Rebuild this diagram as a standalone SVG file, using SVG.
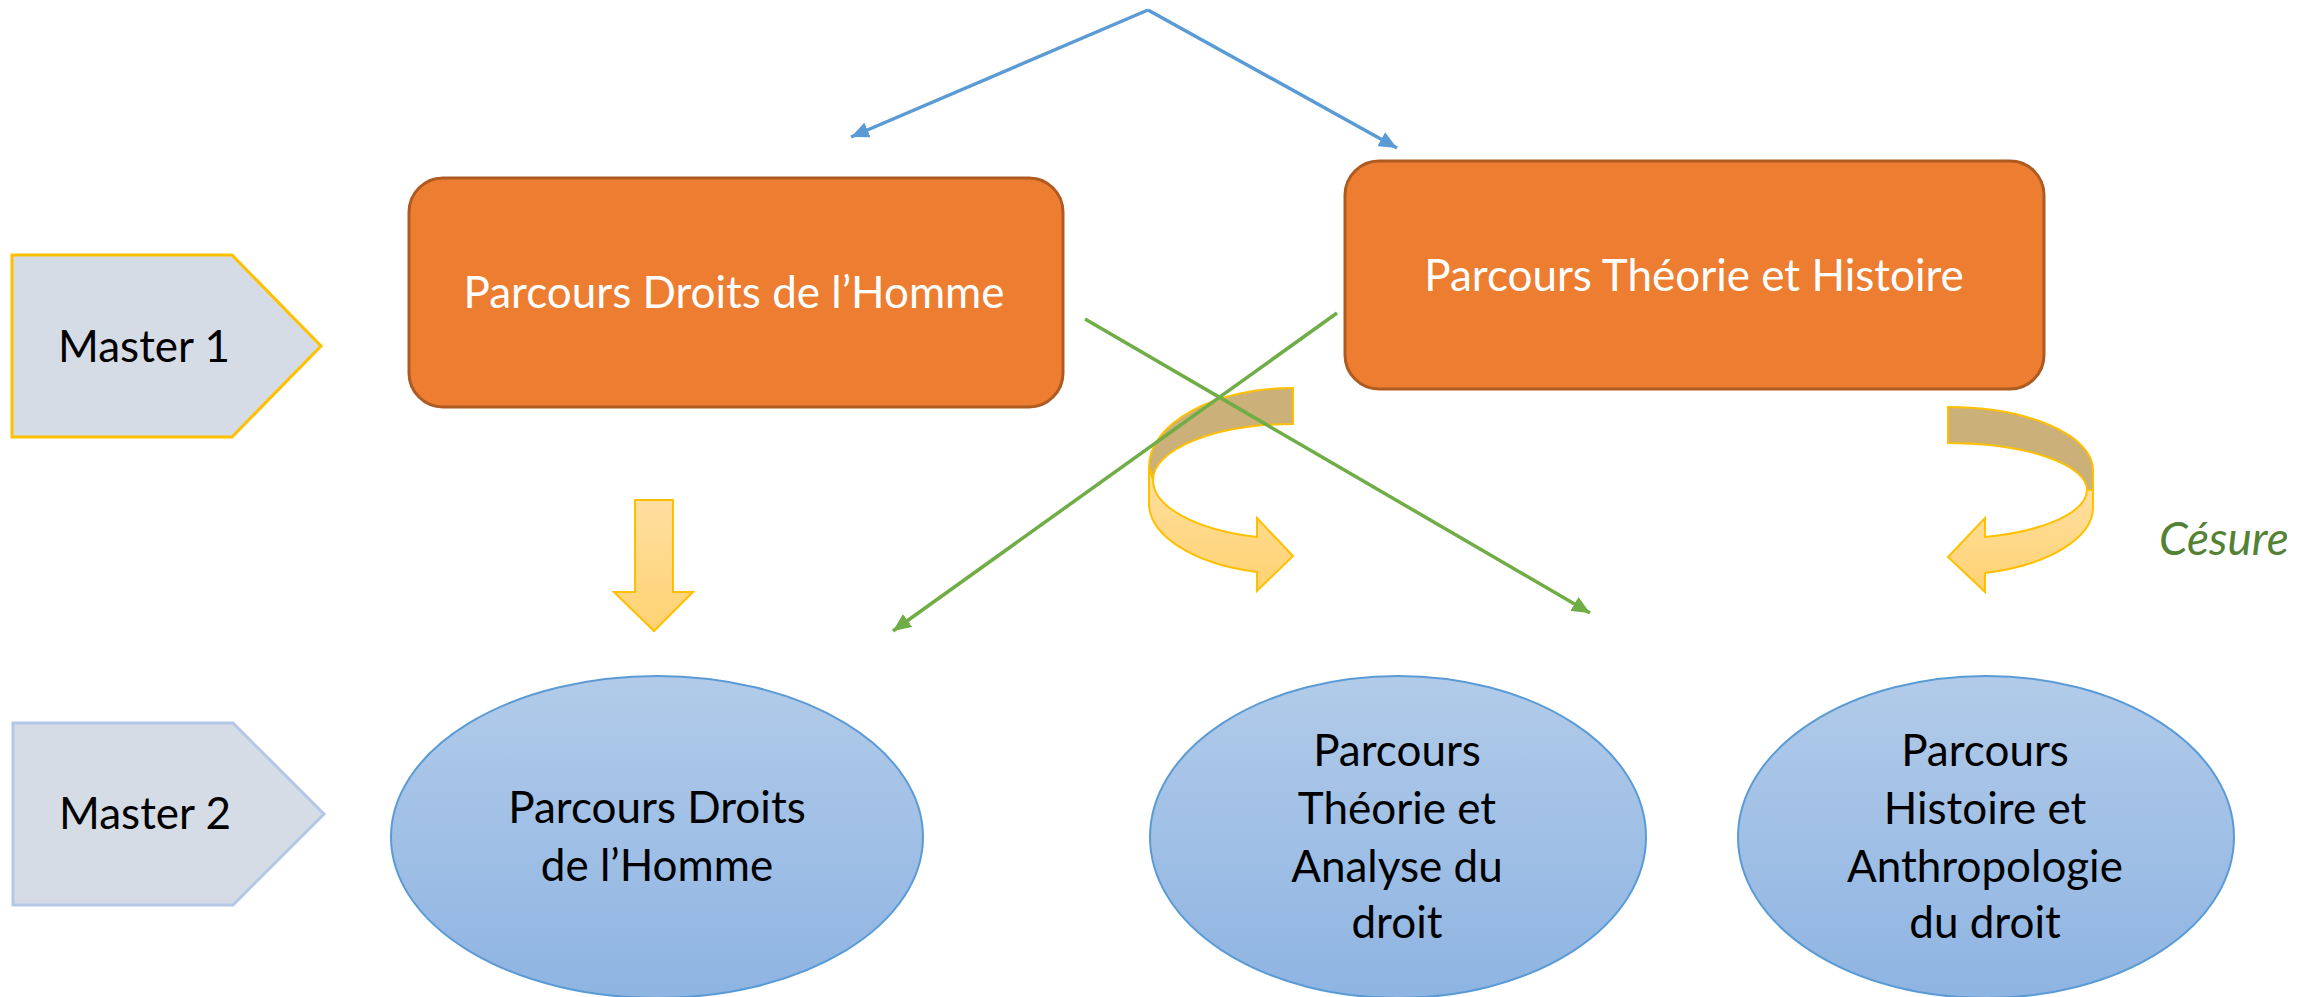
<svg xmlns="http://www.w3.org/2000/svg" width="2308" height="997" viewBox="0 0 2308 997">
<style>
.t{font-family:Lato,"Liberation Sans",sans-serif;font-size:44px;text-anchor:middle}
.w{fill:#ffffff}
.k{fill:#000000}
.box{fill:#ED7D31;stroke:#AE5A21;stroke-width:3}
.ell{fill:url(#gEll);stroke:#5B9BD5;stroke-width:2}
.pent{fill:#D6DCE5;stroke-width:3}
.blue{stroke:#5B9BD5;stroke-width:3.5;fill:none;marker-end:url(#mBlue)}
.green{stroke:#70AD47;stroke-width:3.5;fill:none;marker-end:url(#mGreen)}
.back{fill:#CCB07A;stroke:#FFC000;stroke-width:2}
.front{fill:url(#gArr);stroke:#FFC000;stroke-width:2}
</style>
<defs>
<linearGradient id="gEll" x1="0" y1="0" x2="0" y2="1">
<stop offset="0" stop-color="#B2CBE9"/>
<stop offset="1" stop-color="#8EB4E2"/>
</linearGradient>
<linearGradient id="gArr" x1="0" y1="0" x2="0" y2="1">
<stop offset="0" stop-color="#FFDFA0"/>
<stop offset="1" stop-color="#FFD272"/>
</linearGradient>
<marker id="mBlue" markerUnits="userSpaceOnUse" markerWidth="20" markerHeight="16" refX="18" refY="8" orient="auto">
<path d="M0,0 L18,8 L0,16 Z" fill="#5B9BD5"/>
</marker>
<marker id="mGreen" markerUnits="userSpaceOnUse" markerWidth="20" markerHeight="16" refX="18" refY="8" orient="auto">
<path d="M0,0 L18,8 L0,16 Z" fill="#70AD47"/>
</marker>
</defs>

<g id="master1">
<polygon class="pent" stroke="#FFC000" points="12,255 232,255 321,346 232,437 12,437"/>
<text class="t k" x="144" y="362">Master 1</text>
</g>
<g id="master2">
<polygon class="pent" stroke="#B4C7E7" points="13,723 233,723 324,814 233,905 13,905"/>
<text class="t k" x="145" y="829">Master 2</text>
</g>

<g id="m1-droits">
<rect class="box" x="409" y="178" width="654" height="229" rx="34" ry="34"/>
<text class="t w" x="734" y="308">Parcours Droits de l’Homme</text>
</g>
<g id="m1-theorie">
<rect class="box" x="1345" y="161" width="699" height="228" rx="34" ry="34"/>
<text class="t w" x="1694" y="291">Parcours Théorie et Histoire</text>
</g>

<g id="m2-droits">
<ellipse class="ell" cx="657" cy="837" rx="266" ry="161"/>
<text class="t k" x="657" y="823">Parcours Droits</text>
<text class="t k" x="657" y="881">de l’Homme</text>
</g>
<g id="m2-theorie">
<ellipse class="ell" cx="1398" cy="837" rx="248" ry="161"/>
<text class="t k" x="1397" y="766">Parcours</text>
<text class="t k" x="1397" y="824">Théorie et</text>
<text class="t k" x="1397" y="882">Analyse du</text>
<text class="t k" x="1397" y="938">droit</text>
</g>
<g id="m2-histoire">
<ellipse class="ell" cx="1986" cy="837" rx="248" ry="161"/>
<text class="t k" x="1985" y="766">Parcours</text>
<text class="t k" x="1985" y="824">Histoire et</text>
<text class="t k" x="1985" y="882">Anthropologie</text>
<text class="t k" x="1985" y="938">du droit</text>
</g>

<g id="down-arrow">
<polygon class="front" points="635,500 673,500 673,592 693,592 654,631 614,592 635,592"/>
</g>

<g id="uturn-left">
<path class="back" d="M1293,388 A144,79 0 0 0 1149,467 L1153,480 A140,56 0 0 1 1293,424 Z"/>
<path class="front" d="M1149,467 L1149,503 A144,71 0 0 0 1257,572 L1257,591 L1293,556 L1257,518 L1257,537 A140,59 0 0 1 1153,480 Z"/>
</g>
<g id="uturn-right">
<path class="back" d="M1948,407 A145,63 0 0 1 2093,470 L2093,490 L2087,490 A139,47 0 0 0 1948,443 Z"/>
<path class="front" d="M2093,490 L2093,507 A145,68 0 0 1 1985,573 L1985,592 L1948,557 L1985,518 L1985,537 A139,49 0 0 0 2087,490 Z"/>
</g>

<g id="cesure">
<text x="2159" y="555" style="font-family:Lato,'Liberation Sans',sans-serif;font-size:46px;font-style:italic" fill="#548235">Césure</text>
</g>

<g id="connectors">
<line class="blue" x1="1148" y1="10" x2="851" y2="137"/>
<line class="blue" x1="1148" y1="10" x2="1397" y2="148"/>
<line class="green" x1="1085" y1="319" x2="1590" y2="613"/>
<line class="green" x1="1337" y1="313" x2="893" y2="631"/>
</g>
</svg>
